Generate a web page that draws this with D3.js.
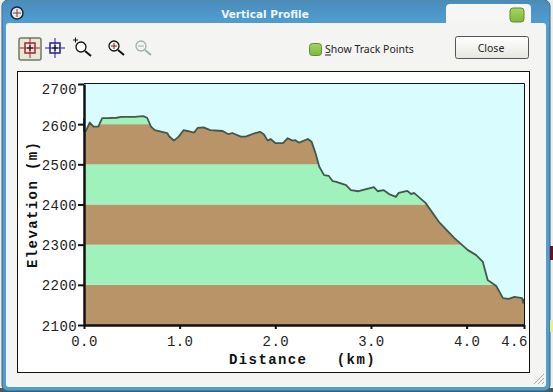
<!DOCTYPE html>
<html>
<head>
<meta charset="utf-8">
<title>Vertical Profile</title>
<script src="https://cdn.jsdelivr.net/npm/d3@7"></script>
<style>
html, body { margin: 0; padding: 0; background: #fff; }
svg { display: block; }
.tick-label { font-family: "Liberation Mono", monospace; font-size: 14px; letter-spacing: 0.4px; fill: #222; }
.axisLabel { font-family: "Liberation Mono", monospace; font-size: 14px; font-weight: bold; letter-spacing: 1.4px; fill: #111; white-space: pre; }
.ui { font-family: "Noto Sans", sans-serif; font-size: 10.5px; fill: #222; }
</style>
</head>
<body>
<div id="chart"></div>
<script>
var distance = [0, 0, 0.02, 0.06, 0.10, 0.15, 0.19, 0.25, 0.34, 0.39, 0.53, 0.62, 0.66, 0.70, 0.74, 0.87, 0.89, 0.94, 0.99,
    1.04, 1.08, 1.15, 1.19, 1.25, 1.32, 1.45, 1.51, 1.55, 1.64, 1.69, 1.79, 1.84, 1.88, 1.92, 1.95, 2.00,
    2.08, 2.13, 2.18, 2.21, 2.25, 2.34, 2.38, 2.42, 2.46, 2.51, 2.56, 2.60, 2.63, 2.74, 2.79, 2.87, 2.95,
    3.03, 3.07, 3.13, 3.19, 3.26, 3.29, 3.38, 3.42, 3.45, 3.57, 3.71, 3.87, 4.01, 4.10, 4.17, 4.22, 4.31,
    4.38, 4.44, 4.50, 4.58, 4.59, 4.60];
var elevation = [2615, 2583, 2583, 2604, 2594, 2594, 2615, 2615, 2616, 2618, 2618, 2620, 2616, 2594, 2585, 2578, 2570, 2559, 2569,
    2585, 2583, 2579, 2591, 2592, 2585, 2583, 2575, 2578, 2569, 2569, 2578, 2581, 2575, 2559, 2563, 2553,
    2553, 2565, 2559, 2560, 2554, 2563, 2556, 2528, 2494, 2473, 2471, 2458, 2457, 2448, 2436, 2433, 2438,
    2443, 2433, 2436, 2426, 2419, 2429, 2434, 2426, 2429, 2404, 2357, 2317, 2287, 2274, 2257, 2212, 2197,
    2167, 2165, 2170, 2167, 2155, 2165];
var xTicks = [0, 1, 2, 3, 4, 4.6];
var yTicks = [2100, 2200, 2300, 2400, 2500, 2600, 2700];
var bandKinds = ["brown", "green", "brown", "green", "brown", "green"];

var width = 553, height = 392;
var margin = {top: 84, left: 84, right: 29, bottom: 67};
var bandColor = {brown: "#b89468", green: "#9ff2bb"};

var svg = d3.select("#chart")
    .append("svg")
    .attr("width", width)
    .attr("height", height);

// window chrome
var defs = svg.append("defs");
var titleGrad = defs.append("linearGradient").attr("id", "titleGrad").attr("x1", 0).attr("x2", 0).attr("y1", 0).attr("y2", 1);
titleGrad.append("stop").attr("offset", "0%").attr("stop-color", "#5f93b5");
titleGrad.append("stop").attr("offset", "5%").attr("stop-color", "#4a8dbd");
titleGrad.append("stop").attr("offset", "100%").attr("stop-color", "#4f9fd2");
var checkGrad = defs.append("linearGradient").attr("id", "checkGrad").attr("x1", 0).attr("x2", 0).attr("y1", 0).attr("y2", 1);
checkGrad.append("stop").attr("offset", "0%").attr("stop-color", "#a6d55c");
checkGrad.append("stop").attr("offset", "100%").attr("stop-color", "#7fb83a");
var btnGrad = defs.append("linearGradient").attr("id", "btnGrad").attr("x1", 0).attr("x2", 0).attr("y1", 0).attr("y2", 1);
btnGrad.append("stop").attr("offset", "0%").attr("stop-color", "#ffffff");
btnGrad.append("stop").attr("offset", "100%").attr("stop-color", "#e6e6e0");

svg.append("rect").attr("width", width).attr("height", height).attr("fill", "#eeeeea");
svg.append("rect").attr("x", 0).attr("y", 388).attr("width", width).attr("height", 4).attr("fill", "#4f5a54");
svg.append("rect").attr("x", 2).attr("y", 0).attr("width", 548).attr("height", 391).attr("rx", 6).attr("fill", "#4f9fd2").attr("stroke", "#3f5f73");
svg.append("rect").attr("x", 2.5).attr("y", 0.5).attr("width", 547).attr("height", 24).attr("rx", 6).attr("fill", "url(#titleGrad)");
svg.append("rect").attr("x", 6).attr("y", 23).attr("width", 540).attr("height", 364).attr("rx", 3).attr("fill", "#f4f4f2");
svg.append("path").attr("d", "M446 23V8q0-4 4-4h77q4 0 4 4v15z").attr("fill", "#f6f6f4");
svg.append("rect").attr("x", 510).attr("y", 8).attr("width", 14).attr("height", 14).attr("rx", 3).attr("fill", "url(#checkGrad)").attr("stroke", "#5f8a3a");
svg.append("text").attr("x", 265).attr("y", 18).attr("text-anchor", "middle")
    .attr("font-family", "DejaVu Sans").attr("font-weight", "bold").attr("font-size", 10.5).attr("fill", "#eef6fb")
    .text("Vertical Profile");
svg.append("circle").attr("cx", 17).attr("cy", 13).attr("r", 6).attr("fill", "#dfe8ea").attr("stroke", "#223").attr("stroke-width", 1.5);
svg.append("path").attr("d", "M13 13h8M17 9v8").attr("stroke", "#8a3b3b");

// bits of the desktop showing at the right edge
svg.append("rect").attr("x", 550).attr("y", 246).attr("width", 3).attr("height", 14).attr("fill", "#6b1020");
svg.append("rect").attr("x", 550).attr("y", 320).attr("width", 3).attr("height", 12).attr("fill", "#f0ea90");

// toolbar
svg.append("rect").attr("x", 19).attr("y", 38).attr("width", 22).attr("height", 22).attr("rx", 2).attr("fill", "#e8e8da").attr("stroke", "#6f7a5e").attr("stroke-width", 1.5);
function crosshair(cx, cy, color) {
    svg.append("rect").attr("x", cx - 5).attr("y", cy - 5).attr("width", 10).attr("height", 10).attr("fill", "none").attr("stroke", color).attr("stroke-width", 1.5);
    svg.append("path").attr("d", `M${cx-10} ${cy}H${cx+10}M${cx} ${cy-10}V${cy+10}`).attr("stroke", color);
    svg.append("path").attr("d", `M${cx-3} ${cy}H${cx+3}M${cx} ${cy-3}V${cy+3}`).attr("stroke", "#111");
}
crosshair(30, 48, "#a82030");
crosshair(55, 48, "#20209a");
function lens(cx, cy, fill, stroke, sign) {
    svg.append("circle").attr("cx", cx).attr("cy", cy).attr("r", 5).attr("fill", fill).attr("stroke", stroke).attr("stroke-width", 1.3);
    svg.append("line").attr("x1", cx + 4).attr("y1", cy + 4).attr("x2", cx + 10).attr("y2", cy + 9).attr("stroke", stroke).attr("stroke-width", 2);
    svg.append("path").attr("d", sign).attr("stroke", stroke === "#111" ? "#8a1020" : stroke).attr("fill", "none");
}
lens(81, 47, "#fff", "#111", "");
svg.append("path").attr("d", "M73 40h5M75.5 37.5v5").attr("stroke", "#111");
lens(114, 46, "#f4f4f2", "#111", "M111 46h6M114 43v6");
lens(141, 46, "#f4f4f2", "#9fb0b0", "M138 46h6");

svg.append("rect").attr("x", 309.5).attr("y", 43.5).attr("width", 12).attr("height", 12).attr("rx", 3).attr("fill", "url(#checkGrad)").attr("stroke", "#5f8a3a");
svg.append("text").attr("class", "ui").attr("x", 325).attr("y", 53).text("Show Track Points");
svg.append("line").attr("x1", 325).attr("x2", 331).attr("y1", 55).attr("y2", 55).attr("stroke", "#222");
svg.append("rect").attr("x", 455.5).attr("y", 36.5).attr("width", 73).attr("height", 22).attr("rx", 2).attr("fill", "url(#btnGrad)").attr("stroke", "#555");
svg.append("text").attr("class", "ui").attr("x", 491).attr("y", 52).attr("text-anchor", "middle").text("Close");

// resize grip
svg.append("path").attr("d", "M544 374L534 384M544 378L538 384M544 382L542 384").attr("stroke", "#a8a8a0");

// chart panel
svg.append("rect").attr("x", 17.5).attr("y", 71.5).attr("width", 512).attr("height", 301).attr("fill", "#fff").attr("stroke", "#111");

var xScale = d3.scaleLinear()
    .domain([0, 4.6])
    .range([margin.left, width - margin.right]);

var yScale = d3.scaleLinear()
    .domain([2100, 2700])
    .range([height - margin.bottom, margin.top]);

svg.append("rect")
    .attr("x", xScale(0)).attr("y", yScale(2700))
    .attr("width", xScale(4.6) - xScale(0)).attr("height", yScale(2100) - yScale(2700))
    .attr("fill", "#d9fdff");

var profile = distance.map(function(d, i) { return {d: d, e: elevation[i]}; });

var area = d3.area()
    .x(function(p) { return xScale(p.d); })
    .y0(yScale(2100))
    .y1(function(p) { return yScale(p.e); });

var line = d3.line()
    .x(function(p) { return xScale(p.d); })
    .y(function(p) { return yScale(p.e); });

defs.append("clipPath").attr("id", "under").append("path").attr("d", area(profile));

svg.append("g")
    .attr("clip-path", "url(#under)")
    .selectAll("rect")
    .data(bandKinds)
    .enter()
    .append("rect")
        .attr("x", xScale(0))
        .attr("width", xScale(4.6) - xScale(0))
        .attr("y", function(d, i) { return yScale(yTicks[i + 1]); })
        .attr("height", function(d, i) { return yScale(yTicks[i]) - yScale(yTicks[i + 1]); })
        .attr("fill", function(d) { return bandColor[d]; });

svg.append("path")
    .attr("d", line(profile))
    .attr("fill", "none")
    .attr("stroke", "#43584c")
    .attr("stroke-width", 1.8)
    .attr("stroke-linejoin", "round");

// thin frame on top and right
svg.append("path")
    .attr("d", `M${xScale(0)} ${yScale(2700) - 0.5}H${xScale(4.6) + 0.5}V${yScale(2100)}`)
    .attr("fill", "none").attr("stroke", "#111");

var xAxis = svg.append("g")
    .attr("transform", `translate(0,${height - margin.bottom})`)
    .call(d3.axisBottom(xScale).tickValues(xTicks).tickSize(4).tickSizeOuter(0).tickFormat(d3.format(".1f")));

var yAxis = svg.append("g")
    .attr("transform", `translate(${margin.left},0)`)
    .call(d3.axisLeft(yScale).tickValues(yTicks).tickSize(6).tickSizeOuter(0).tickFormat(d3.format("d")));

xAxis.select(".domain").attr("stroke", "#111").attr("stroke-width", 2.5);
yAxis.select(".domain").attr("stroke", "#111").attr("stroke-width", 2.5);
svg.selectAll(".tick line").attr("stroke", "#111").attr("stroke-width", 2);
svg.selectAll(".tick text").attr("class", "tick-label").attr("font-family", null).attr("font-size", null);
xAxis.selectAll(".tick text").attr("y", 11).attr("dy", "0.71em");
xAxis.selectAll(".tick text").filter(function(d) { return d === 4.6; }).attr("dx", -10);
yAxis.selectAll(".tick text").attr("x", -7).attr("dy", "0.36em");
// top labels sit a little below their ticks in the original
yAxis.selectAll(".tick text").filter(function(d) { return d === 2700; }).attr("y", 4);
yAxis.selectAll(".tick text").filter(function(d) { return d === 2600; }).attr("y", 1);

var xAxisLabel = svg.append("text")
    .attr("class", "axisLabel")
    .attr("x", 229)
    .attr("y", 364)
    .text("Distance   (km)");

var yAxisLabel = svg.append("text")
    .attr("class", "axisLabel")
    .attr("transform", "rotate(-90)")
    .attr("x", -268)
    .attr("y", 37)
    .text("Elevation (m)");
</script>
</body>
</html>
